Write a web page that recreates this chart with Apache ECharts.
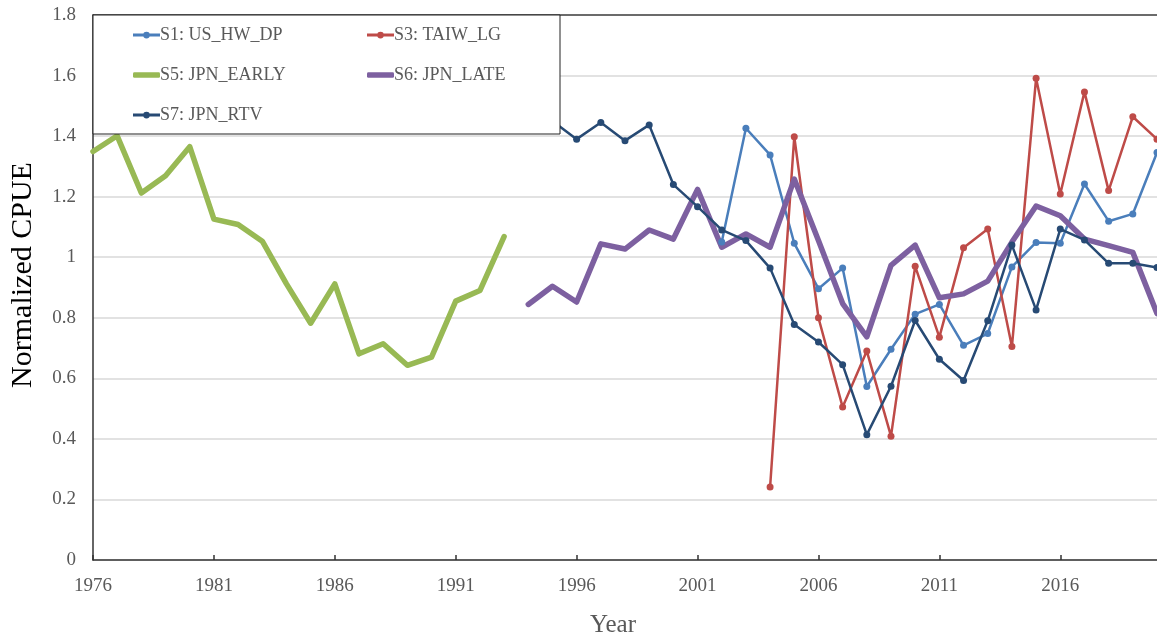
<!DOCTYPE html>
<html>
<head>
<meta charset="utf-8">
<script src="https://cdn.jsdelivr.net/npm/echarts@6/dist/echarts.min.js"></script>
<style>html,body{margin:0;padding:0;background:#fff}#c{width:1157px;height:643px}</style>
</head>
<body>
<div id="c"></div>
<script>
// ---- Data ----
var yTicks = [0, 0.2, 0.4, 0.6, 0.8, 1, 1.2, 1.4, 1.6, 1.8];
var xTickYears = [1976, 1981, 1986, 1991, 1996, 2001, 2006, 2011, 2016];

var s1Years = [2002,2003,2004,2005,2006,2007,2008,2009,2010,2011,2012,2013,2014,2015,2016,2017,2018,2019,2020];
var s1Values = [1.05,1.426,1.338,1.046,0.896,0.964,0.573,0.696,0.812,0.844,0.709,0.748,0.968,1.049,1.046,1.242,1.119,1.143,1.346];

var s3Years = [2004,2005,2006,2007,2008,2009,2010,2011,2012,2013,2014,2015,2016,2017,2018,2019,2020];
var s3Values = [0.241,1.398,0.800,0.505,0.690,0.409,0.970,0.736,1.031,1.093,0.705,1.591,1.209,1.546,1.220,1.464,1.390];

var s5Years = [1976,1977,1978,1979,1980,1981,1982,1983,1984,1985,1986,1987,1988,1989,1990,1991,1992,1993];
var s5Values = [1.349,1.401,1.212,1.269,1.365,1.126,1.108,1.053,0.912,0.782,0.912,0.681,0.714,0.643,0.670,0.855,0.890,1.068];

var s6Years = [1994,1995,1996,1997,1998,1999,2000,2001,2002,2003,2004,2005,2006,2007,2008,2009,2010,2011,2012,2013,2014,2015,2016,2017,2018,2019,2020];
var s6Values = [0.844,0.904,0.852,1.044,1.027,1.090,1.060,1.224,1.033,1.077,1.033,1.258,1.055,0.847,0.737,0.973,1.040,0.866,0.879,0.921,1.05,1.169,1.137,1.060,1.038,1.016,0.814];

var s7Years = [1994,1995,1996,1997,1998,1999,2000,2001,2002,2003,2004,2005,2006,2007,2008,2009,2010,2011,2012,2013,2014,2015,2016,2017,2018,2019,2020];
var s7Values = [1.50,1.45,1.390,1.445,1.385,1.437,1.240,1.167,1.090,1.055,0.964,0.778,0.720,0.645,0.414,0.574,0.791,0.663,0.593,0.790,1.040,0.826,1.093,1.057,0.980,0.980,0.966];

function zip(xs, ys) { return xs.map(function (x, i) { return [x, ys[i]]; }); }

var FONT = '"Liberation Serif","Times New Roman",serif';
var GRAY = '#595959';

var chart = echarts.init(document.getElementById('c'), null, {renderer: 'canvas'});

function thin(name, color, xs, ys) {
  return {
    name: name, type: 'line', data: zip(xs, ys),
    symbol: 'circle', symbolSize: 7, showSymbol: true,
    itemStyle: {color: color},
    lineStyle: {color: color, width: 2.5},
    emphasis: {disabled: true}, animation: false, z: 2
  };
}
function thick(name, color, xs, ys) {
  return {
    name: name, type: 'line', data: zip(xs, ys),
    symbol: 'none', showSymbol: false,
    itemStyle: {color: color},
    lineStyle: {color: color, width: 5.5, cap: 'round', join: 'round'},
    emphasis: {disabled: true}, animation: false, z: 2
  };
}

var THIN_ICON = 'path://M0,2.25L24,2.25L24,4.75L0,4.75Z M15,3.5A3,3,0,1,1,9,3.5A3,3,0,1,1,15,3.5Z';

function leg(name, left, rowCenter, isThick) {
  return {
    orient: 'vertical', left: left, top: rowCenter - 9,
    itemWidth: 27, itemHeight: isThick ? 5.5 : 7, padding: 0, selectedMode: false, z: 10,
    icon: isThick ? 'roundRect' : THIN_ICON,
    textStyle: {fontFamily: FONT, fontSize: 18, color: GRAY, lineHeight: 18, padding: [0,0,0,-5]},
    data: [name]
  };
}

chart.setOption({
  animation: false,
  backgroundColor: '#fff',
  grid: {left: 93, right: 0, top: 15, bottom: 83, containLabel: false},
  legend: [
    leg('S1: US_HW_DP', 133, 35, false),
    leg('S5: JPN_EARLY', 133, 75, true),
    leg('S7: JPN_RTV', 133, 115, false),
    leg('S3: TAIW_LG', 367, 35, false),
    leg('S6: JPN_LATE', 367, 75, true)
  ],
  xAxis: [{
    type: 'value', min: 1976, max: 2020, interval: 5,
    axisLine: {show: true, lineStyle: {color: '#333', width: 1.5}},
    axisTick: {show: true, inside: true, length: 5, lineStyle: {color: '#333', width: 1.5}},
    splitLine: {show: false},
    axisLabel: {
      show: true, margin: 17, showMaxLabel: false, color: GRAY, fontFamily: FONT, fontSize: 19,
      formatter: function (v) { return xTickYears.indexOf(v) >= 0 ? String(v) : ''; }
    }
  }, {
    type: 'value', position: 'top', min: 1976, max: 2020,
    axisLine: {show: true, lineStyle: {color: '#444', width: 1.5}},
    axisTick: {show: false}, axisLabel: {show: false}, splitLine: {show: false}
  }],
  yAxis: {
    type: 'value', min: 0, max: 1.8, interval: 0.2,
    axisLine: {show: true, lineStyle: {color: '#333', width: 1.5}},
    axisTick: {show: false},
    splitLine: {show: true, lineStyle: {color: '#d9d9d9', width: 1.5}},
    axisLabel: {
      margin: 17, color: GRAY, fontFamily: FONT, fontSize: 19,
      formatter: function (v) {
        var t = yTicks.filter(function (k) { return Math.abs(k - v) < 1e-6; });
        return t.length ? String(t[0]) : '';
      }
    }
  },
  graphic: [
    {type: 'rect', z: 5, shape: {x: 93, y: 15, width: 467, height: 119},
     style: {fill: '#fff', stroke: '#222', lineWidth: 1}},
    {type: 'text', z: 5, x: 23, y: 275, rotation: Math.PI / 2,
     style: {text: 'Normalized CPUE', font: '30px ' + FONT, fill: '#000', textAlign: 'center', textVerticalAlign: 'middle'}},
    {type: 'text', z: 5, x: 613, y: 625,
     style: {text: 'Year', font: '25px ' + FONT, fill: GRAY, textAlign: 'center', textVerticalAlign: 'middle'}}
  ],
  series: [
    thin('S1: US_HW_DP', '#4A7EBB', s1Years, s1Values),
    thin('S3: TAIW_LG', '#BE4B48', s3Years, s3Values),
    thick('S5: JPN_EARLY', '#98B954', s5Years, s5Values),
    thick('S6: JPN_LATE', '#7D60A0', s6Years, s6Values),
    thin('S7: JPN_RTV', '#274A74', s7Years, s7Values)
  ]
});
</script>
</body>
</html>
